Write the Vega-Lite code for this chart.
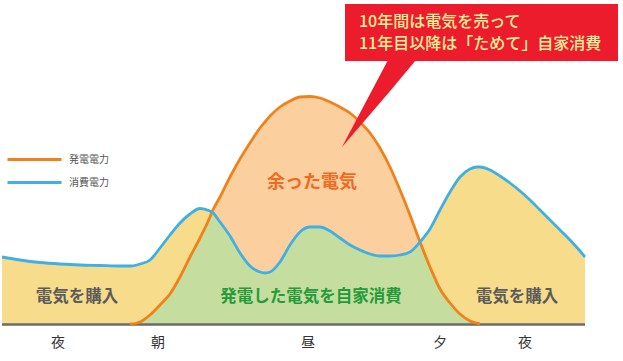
{
  "$schema": "https://vega.github.io/schema/vega-lite/v6.json",
  "width": 623,
  "height": 361,
  "padding": 0,
  "autosize": {"type": "none"},
  "background": "white",
  "config": {"view": {"stroke": null}, "font": "Noto Sans CJK JP"},
  "datasets": {
    "main": [
      {"t": 2, "c": 67, "g": null, "s": null},
      {"t": 20, "c": 64, "g": null, "s": null},
      {"t": 40, "c": 61.5, "g": null, "s": null},
      {"t": 60, "c": 60, "g": null, "s": null},
      {"t": 80, "c": 59, "g": null, "s": null},
      {"t": 100, "c": 58.5, "g": null, "s": null},
      {"t": 120, "c": 58, "g": null, "s": null},
      {"t": 130, "c": 58, "g": 0, "s": 0},
      {"t": 135, "c": 58.5, "g": 0.5, "s": 0.5},
      {"t": 140, "c": 60, "g": 2, "s": 2},
      {"t": 150, "c": 64, "g": 9, "s": 9},
      {"t": 160, "c": 76, "g": 19, "s": 19},
      {"t": 170, "c": 89, "g": 30, "s": 30},
      {"t": 180, "c": 101, "g": 47, "s": 47},
      {"t": 190, "c": 110, "g": 67, "s": 67},
      {"t": 200, "c": 115.5, "g": 86, "s": 86},
      {"t": 210, "c": 113, "g": 107, "s": 107},
      {"t": 212, "c": 112, "g": 112, "s": 112},
      {"t": 220, "c": 102, "g": 127, "s": 102},
      {"t": 230, "c": 88, "g": 147, "s": 88},
      {"t": 240, "c": 71, "g": 165, "s": 71},
      {"t": 250, "c": 58, "g": 181, "s": 58},
      {"t": 260, "c": 52, "g": 196, "s": 52},
      {"t": 265, "c": 51, "g": 202, "s": 51},
      {"t": 270, "c": 52, "g": 208, "s": 52},
      {"t": 280, "c": 62, "g": 217, "s": 62},
      {"t": 290, "c": 79, "g": 223, "s": 79},
      {"t": 300, "c": 92, "g": 227, "s": 92},
      {"t": 310, "c": 97, "g": 227.5, "s": 97},
      {"t": 320, "c": 97, "g": 226, "s": 97},
      {"t": 330, "c": 93, "g": 222, "s": 93},
      {"t": 340, "c": 86, "g": 217, "s": 86},
      {"t": 350, "c": 79, "g": 211, "s": 79},
      {"t": 360, "c": 74, "g": 202, "s": 74},
      {"t": 370, "c": 70, "g": 191, "s": 70},
      {"t": 380, "c": 68, "g": 176, "s": 68},
      {"t": 390, "c": 68, "g": 157, "s": 68},
      {"t": 400, "c": 69, "g": 134, "s": 69},
      {"t": 410, "c": 72, "g": 109, "s": 72},
      {"t": 420, "c": 82, "g": 82, "s": 82},
      {"t": 430, "c": 95, "g": 57, "s": 57},
      {"t": 440, "c": 114, "g": 35, "s": 35},
      {"t": 450, "c": 132, "g": 21, "s": 21},
      {"t": 460, "c": 147, "g": 10, "s": 10},
      {"t": 470, "c": 155, "g": 3, "s": 3},
      {"t": 477, "c": 157, "g": 0.8, "s": 0.8},
      {"t": 480, "c": 157, "g": 0, "s": 0},
      {"t": 490, "c": 154, "g": null, "s": null},
      {"t": 500, "c": 148, "g": null, "s": null},
      {"t": 510, "c": 141, "g": null, "s": null},
      {"t": 520, "c": 133, "g": null, "s": null},
      {"t": 530, "c": 124, "g": null, "s": null},
      {"t": 540, "c": 114, "g": null, "s": null},
      {"t": 550, "c": 104, "g": null, "s": null},
      {"t": 560, "c": 94, "g": null, "s": null},
      {"t": 570, "c": 84, "g": null, "s": null},
      {"t": 580, "c": 73, "g": null, "s": null},
      {"t": 585, "c": 67, "g": null, "s": null}
    ],
    "times": [
      {"t": 58, "label": "夜"},
      {"t": 158, "label": "朝"},
      {"t": 308, "label": "昼"},
      {"t": 440, "label": "夕"},
      {"t": 525, "label": "夜"}
    ],
    "pointer": [
      {"t": 342, "lo": 177, "hi": 177},
      {"t": 388, "lo": 230.5, "hi": 264},
      {"t": 416, "lo": 264, "hi": 264}
    ]
  },
  "encoding": {
    "x": {"type": "quantitative", "scale": {"domain": [0, 623], "nice": false, "zero": false}, "axis": null},
    "y": {"type": "quantitative", "scale": {"domain": [-37, 324], "nice": false, "zero": false}, "axis": null}
  },
  "layer": [
    {
      "data": {"name": "main"},
      "mark": {"type": "area", "interpolate": "monotone", "color": "#f7dc8c", "invalid": "filter"},
      "encoding": {"x": {"field": "t", "type": "quantitative"}, "y": {"field": "c", "type": "quantitative"}}
    },
    {
      "data": {"name": "main"},
      "mark": {"type": "area", "interpolate": "monotone", "color": "#fccf9e", "invalid": "filter"},
      "encoding": {"x": {"field": "t", "type": "quantitative"}, "y": {"field": "g", "type": "quantitative"}}
    },
    {
      "data": {"name": "main"},
      "mark": {"type": "area", "interpolate": "monotone", "color": "#c5dea0", "invalid": "filter"},
      "encoding": {"x": {"field": "t", "type": "quantitative"}, "y": {"field": "s", "type": "quantitative"}}
    },
    {
      "data": {"values": [{}]},
      "mark": {"type": "rule", "color": "#6b6b6b", "strokeWidth": 2.5},
      "encoding": {"x": {"datum": 2}, "x2": {"datum": 585}, "y": {"datum": -0.5}}
    },
    {
      "data": {"name": "main"},
      "mark": {"type": "line", "interpolate": "monotone", "strokeWidth": 2.8, "invalid": "filter"},
      "encoding": {
        "x": {"field": "t", "type": "quantitative"},
        "y": {"field": "g", "type": "quantitative"},
        "color": {"datum": "発電電力", "type": "nominal", "scale": {"domain": ["発電電力", "消費電力"], "range": ["#f0821e", "#3fb0e3"]},
          "legend": {"orient": "none", "legendX": 6, "legendY": 149, "title": null, "symbolType": "M-1,0H5", "symbolSize": 324, "symbolStrokeWidth": 3, "labelFontSize": 10, "labelColor": "#555555", "rowPadding": 6, "labelOffset": 42, "labelFont": "Noto Sans CJK JP"}}
      }
    },
    {
      "data": {"name": "main"},
      "mark": {"type": "line", "interpolate": "monotone", "strokeWidth": 2.8, "invalid": "filter"},
      "encoding": {
        "x": {"field": "t", "type": "quantitative"},
        "y": {"field": "c", "type": "quantitative"},
        "color": {"datum": "消費電力", "type": "nominal"}
      }
    },
    {
      "data": {"values": [{}]},
      "mark": {"type": "rect", "color": "#ec1c2d"},
      "encoding": {"x": {"datum": 345}, "x2": {"datum": 618}, "y": {"datum": 320}, "y2": {"datum": 263}}
    },
    {
      "data": {"name": "pointer"},
      "mark": {"type": "area", "color": "#ec1c2d"},
      "encoding": {"x": {"field": "t", "type": "quantitative"}, "y": {"field": "lo", "type": "quantitative"}, "y2": {"field": "hi"}}
    },
    {
      "data": {"values": [{}]},
      "mark": {"type": "text", "align": "left", "baseline": "middle", "fontSize": 16, "fontWeight": 500, "color": "#fff09a", "font": "Noto Sans CJK JP"},
      "encoding": {"x": {"datum": 359}, "y": {"datum": 302.5}, "text": {"value": "10年間は電気を売って"}}
    },
    {
      "data": {"values": [{}]},
      "mark": {"type": "text", "align": "left", "baseline": "middle", "fontSize": 16, "fontWeight": 500, "color": "#fff09a", "font": "Noto Sans CJK JP"},
      "encoding": {"x": {"datum": 359}, "y": {"datum": 280.5}, "text": {"value": "11年目以降は「ためて」自家消費"}}
    },
    {
      "data": {"values": [{}]},
      "mark": {"type": "text", "align": "center", "baseline": "middle", "fontSize": 18, "fontWeight": "bold", "color": "#ef6b23", "font": "Noto Sans CJK JP"},
      "encoding": {"x": {"datum": 312}, "y": {"datum": 141}, "text": {"value": "余った電気"}}
    },
    {
      "data": {"values": [{}]},
      "mark": {"type": "text", "align": "center", "baseline": "middle", "fontSize": 16.5, "fontWeight": "bold", "color": "#239a3b", "font": "Noto Sans CJK JP"},
      "encoding": {"x": {"datum": 311}, "y": {"datum": 27}, "text": {"value": "発電した電気を自家消費"}}
    },
    {
      "data": {"values": [{}]},
      "mark": {"type": "text", "align": "center", "baseline": "middle", "fontSize": 16.5, "fontWeight": "bold", "color": "#5b5b5b", "font": "Noto Sans CJK JP"},
      "encoding": {"x": {"datum": 77}, "y": {"datum": 27}, "text": {"value": "電気を購入"}}
    },
    {
      "data": {"values": [{}]},
      "mark": {"type": "text", "align": "center", "baseline": "middle", "fontSize": 16.5, "fontWeight": "bold", "color": "#5b5b5b", "font": "Noto Sans CJK JP"},
      "encoding": {"x": {"datum": 517}, "y": {"datum": 27}, "text": {"value": "電気を購入"}}
    },
    {
      "data": {"name": "times"},
      "mark": {"type": "text", "align": "center", "baseline": "middle", "fontSize": 14, "color": "#333333", "font": "Noto Sans CJK JP"},
      "encoding": {"x": {"field": "t", "type": "quantitative"}, "y": {"datum": -19}, "text": {"field": "label"}}
    }
  ]
}
